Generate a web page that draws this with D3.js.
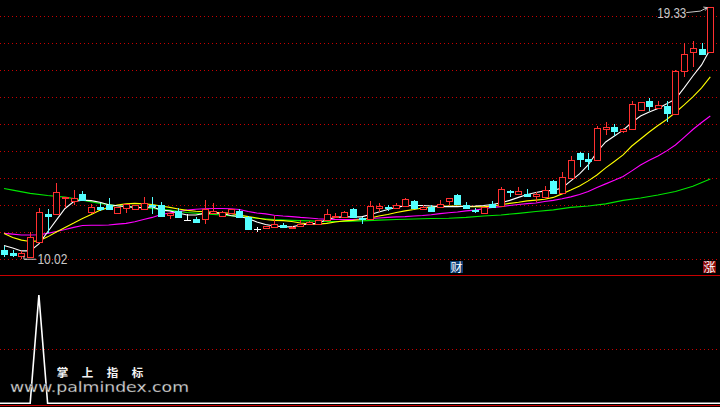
<!DOCTYPE html>
<html><head><meta charset="utf-8">
<script src="https://cdn.jsdelivr.net/npm/d3@7"></script>
<style>html,body{margin:0;padding:0;background:#000;overflow:hidden}</style>
</head><body>
<svg id="c" width="720" height="407"></svg>
<script>
// ---- data ----
const opens  = [10.34,10.22,10.13,10.10,10.65,11.66,11.66,12.26,12.17,12.42,
                11.76,11.95,12.01,11.70,11.89,11.85,11.85,12.01,12.01,11.64,
                11.80,11.45,11.49,11.48,11.72,11.60,11.72,11.80,11.55,11.12,
                11.15,11.21,11.27,11.15,11.23,11.30,11.31,11.45,11.55,11.55,
                11.85,11.53,11.48,11.91,11.93,11.89,11.98,12.16,11.86,11.95,
                11.95,12.17,12.38,12.01,11.83,11.70,12.04,11.97,12.54,12.41,
                12.41,12.34,12.29,12.90,12.45,13.00,13.94,13.70,13.67,14.81,
                14.91,14.76,14.81,15.52,15.87,15.59,15.67,15.38,16.98,17.68,
                17.77,17.68];
const highs  = [10.50,10.33,10.31,11.02,11.90,11.86,12.81,12.32,12.56,12.53,
                12.04,12.07,12.26,11.95,12.04,12.01,12.29,12.31,12.11,11.72,
                11.90,11.68,11.58,12.19,12.07,11.80,11.87,11.85,11.60,11.21,
                11.25,11.60,11.34,11.22,11.45,11.42,11.46,11.85,11.71,11.77,
                11.88,11.58,12.16,12.07,12.01,12.09,12.28,12.18,12.01,12.00,
                12.19,12.27,12.40,12.11,11.91,11.93,12.16,12.68,12.56,12.69,
                12.60,12.50,12.71,12.92,13.22,13.81,13.96,13.94,14.93,15.07,
                15.00,14.87,15.87,15.82,15.98,15.87,15.86,17.00,17.99,18.08,
                17.99,19.33];
const lows   = [10.09,10.09,10.02,10.09,10.65,10.96,11.66,11.90,12.01,12.19,
                11.67,11.80,11.85,11.70,11.72,11.85,11.85,11.68,11.60,11.48,
                11.53,11.43,11.33,11.31,11.72,11.58,11.70,11.55,11.10,11.02,
                11.14,11.21,11.14,11.13,11.23,11.28,11.30,11.45,11.55,11.55,
                11.53,11.30,11.48,11.76,11.79,11.88,11.98,11.90,11.85,11.78,
                11.94,12.01,12.00,11.89,11.72,11.70,11.92,11.97,12.29,12.40,
                12.29,12.13,12.29,12.43,12.45,12.99,13.43,13.30,13.67,14.60,
                14.56,14.68,14.80,15.52,15.50,15.58,15.09,15.37,16.73,17.13,
                17.56,17.68];
const closes = [10.20,10.15,10.24,10.84,11.76,11.61,12.48,12.32,12.28,12.19,
                11.92,11.85,11.85,11.95,12.04,12.01,12.07,11.97,11.60,11.72,
                11.55,11.45,11.39,11.86,11.80,11.76,11.86,11.58,11.12,11.12,
                11.23,11.30,11.18,11.21,11.31,11.39,11.45,11.68,11.60,11.74,
                11.55,11.51,11.97,11.97,11.91,12.01,12.22,11.91,11.95,11.79,
                12.05,12.26,12.05,11.90,11.81,11.92,11.92,12.60,12.52,12.53,
                12.35,12.42,12.56,12.44,13.03,13.67,13.71,13.65,14.85,14.88,
                14.75,14.82,15.75,15.81,15.68,15.71,15.42,16.98,17.60,17.81,
                17.59,19.33];
const ma5  = [10.51,10.42,10.31,10.31,10.57,11.01,11.45,11.88,12.14,12.19,
              12.17,12.11,12.02,11.98,11.95,11.92,11.91,11.94,11.82,11.79,
              11.71,11.64,11.64,11.70,11.71,11.70,11.62,11.58,11.51,11.38,
              11.29,11.23,11.21,11.20,11.27,11.31,11.33,11.47,11.55,11.57,
              11.57,11.57,11.66,11.75,11.84,11.92,11.98,11.99,11.99,11.97,
              11.95,11.95,11.95,11.96,11.97,11.99,12.03,12.09,12.18,12.29,
              12.40,12.47,12.53,12.55,12.64,12.90,13.16,13.49,13.97,14.34,
              14.56,14.78,15.06,15.30,15.45,15.58,15.75,15.93,16.34,16.78,
              17.19,17.78];
const ma10 = [10.95,10.81,10.71,10.66,10.68,10.83,11.01,11.18,11.34,11.51,
              11.66,11.81,11.92,12.01,12.05,12.07,12.05,12.03,11.97,11.92,
              11.86,11.81,11.78,11.76,11.74,11.72,11.70,11.64,11.58,11.53,
              11.47,11.44,11.43,11.40,11.34,11.31,11.30,11.33,11.38,11.42,
              11.44,11.47,11.53,11.60,11.66,11.73,11.79,11.84,11.90,11.93,
              11.96,11.97,11.97,11.95,11.95,11.94,11.97,12.02,12.07,12.11,
              12.16,12.19,12.22,12.29,12.42,12.56,12.71,12.90,13.12,13.38,
              13.62,13.86,14.19,14.45,14.71,14.95,15.17,15.43,15.71,16.01,
              16.34,16.75];
const ma20 = [10.96,10.93,10.90,10.90,10.91,10.96,11.03,11.10,11.18,11.25,
              11.26,11.26,11.27,11.30,11.33,11.39,11.47,11.55,11.66,11.71,
              11.77,11.82,11.85,11.87,11.88,11.88,11.87,11.84,11.77,11.71,
              11.68,11.63,11.60,11.58,11.55,11.53,11.50,11.48,11.47,11.47,
              11.47,11.49,11.51,11.53,11.55,11.57,11.58,11.60,11.62,11.65,
              11.69,11.72,11.75,11.79,11.82,11.87,11.92,11.95,11.99,12.03,
              12.06,12.08,12.14,12.18,12.24,12.31,12.40,12.51,12.66,12.79,
              12.92,13.06,13.27,13.49,13.66,13.82,14.01,14.23,14.51,14.80,
              15.06,15.30];
const ma60Idx = [0,1,3,5,7,9,11,13,15,17,19,21,23,25,27,29,31,33,35,37,39,
                 41,43,45,47,49,51,53,55,57,59,61,63,65,67,69,71,73,75,77,79,81];
const ma60 = [12.62,12.56,12.44,12.36,12.30,12.19,12.07,11.98,11.94,11.88,11.82,
              11.73,11.68,11.64,11.58,11.52,11.47,11.44,11.42,11.40,11.40,
              11.42,11.45,11.47,11.49,11.51,11.52,11.55,11.60,11.64,11.70,
              11.77,11.83,11.92,11.97,12.05,12.18,12.27,12.38,12.51,12.70,12.97];
const signal = [0,0,0,0,1,0,0,0,0,0,0,0,0,0,0,0,0,0,0,0,
                0,0,0,0,0,0,0,0,0,0,0,0,0,0,0,0,0,0,0,0,
                0,0,0,0,0,0,0,0,0,0,0,0,0,0,0,0,0,0,0,0,
                0,0,0,0,0,0,0,0,0,0,0,0,0,0,0,0,0,0,0,0,0,0];
const gridPrices = [10,11,12,13,14,15,16,17,18,19];
const eventIdx   = [52, 81];
const eventText  = ["财", "涨"];
const eventColor = ["#0c3d74", "#8a0a0a"];
const watermarkCN = ["掌","上","指","标"];
const watermarkURL = "www.palmindex.com";

// ---- drawing ----
const RED = "#ff3030", CYAN = "#54ffff";
const svg = d3.select("#c");
svg.append("rect").attr("width",720).attr("height",407).attr("fill","#000");

const x = d3.scaleLinear().domain([0,81]).range([4,710.3]);
const y = d3.scaleLinear().domain([10,19]).range([259.3,16]);
const y2 = d3.scaleLinear().domain([0,1]).range([403.3,295]);
const cx = i => Math.round(x(i));
const ry = v => Math.round(y(v));

// grid lines (dotted)
const dotted = (sel) => sel.attr("stroke","#c80000").attr("stroke-dasharray","1,3")
  .attr("shape-rendering","crispEdges");
svg.append("g").selectAll("line").data(gridPrices).join("line")
  .attr("x1",0).attr("x2",720)
  .attr("y1",d=>ry(d)+0.5).attr("y2",d=>ry(d)+0.5).call(dotted);
// panel separators
[275.5, 405.5].forEach(v=>svg.append("line").attr("x1",0).attr("x2",720)
  .attr("y1",v).attr("y2",v).attr("stroke","#c80000").attr("stroke-width",1.2));
svg.append("line").attr("x1",0).attr("x2",720)
  .attr("y1",Math.round(y2(0.5))+0.5).attr("y2",Math.round(y2(0.5))+0.5).call(dotted);

// moving averages
const line = d3.line().x(d=>x(d[0])).y(d=>y(d[1]));
const maG = svg.append("g").attr("fill","none").attr("stroke-width",1.1);
maG.append("path").attr("d", line(ma60.map((v,k)=>[ma60Idx[k],v]))).attr("stroke","#00e600");
maG.append("path").attr("d", line(ma20.map((v,i)=>[i,v]))).attr("stroke","#ff00ff");
maG.append("path").attr("d", line(ma10.map((v,i)=>[i,v]))).attr("stroke","#ffff00");
maG.append("path").attr("d", line(ma5.map((v,i)=>[i,v]))).attr("stroke","#ffffff");

// candles
const cg = svg.append("g").attr("shape-rendering","crispEdges");
closes.forEach((c,i)=>{
  const o = opens[i], h = highs[i], l = lows[i];
  const X = cx(i);
  if (c > o) {
    const top = ry(c), bot = ry(o);
    cg.append("line").attr("x1",X+0.5).attr("x2",X+0.5).attr("y1",ry(h)).attr("y2",top).attr("stroke",RED);
    cg.append("line").attr("x1",X+0.5).attr("x2",X+0.5).attr("y1",bot).attr("y2",ry(l)).attr("stroke",RED);
    cg.append("rect").attr("x",X-2.5).attr("y",top+0.5).attr("width",6).attr("height",Math.max(1,bot-top))
      .attr("fill","#000").attr("stroke",RED).attr("stroke-width",1.2);
  } else if (c < o) {
    const top = ry(o), bot = ry(c);
    cg.append("line").attr("x1",X+0.5).attr("x2",X+0.5).attr("y1",ry(h)).attr("y2",ry(l)).attr("stroke",CYAN);
    cg.append("rect").attr("x",X-3).attr("y",top).attr("width",7).attr("height",Math.max(1,bot-top)+1)
      .attr("fill",CYAN);
  } else {
    cg.append("line").attr("x1",X+0.5).attr("x2",X+0.5).attr("y1",ry(h)).attr("y2",ry(l)).attr("stroke","#fff");
    cg.append("line").attr("x1",X-3).attr("x2",X+4).attr("y1",ry(c)+0.5).attr("y2",ry(c)+0.5).attr("stroke","#fff");
  }
});

// max / min labels
const iMax = d3.maxIndex(highs), iMin = d3.minIndex(lows);
const hx = x(iMax)-3, hy = y(highs[iMax]);
svg.append("path").attr("fill","none").attr("stroke","#c8c8c8")
  .attr("d",`M${hx-21},${hy+5.5}L${hx-7},${hy+4}L${hx},${hy+0.5}M${hx-4},${hy}L${hx},${hy+0.5}L${hx-2},${hy+3.5}`);
svg.append("text").attr("x",hx-50).attr("y",hy+11).attr("fill","#c8c8c8")
  .attr("font-family","Liberation Sans, Arial, sans-serif").attr("font-size",14)
  .attr("textLength",29).attr("lengthAdjust","spacingAndGlyphs").text(highs[iMax].toFixed(2));
const lx = x(iMin)+1.5, ly = y(lows[iMin]);
svg.append("path").attr("fill","none").attr("stroke","#c8c8c8")
  .attr("d",`M${lx+13},${ly+0.5}L${lx+2},${ly+0.5}M${lx+1},${ly-3}L${lx+1},${ly+0.5}L${lx+4},${ly+0.5}`);
svg.append("text").attr("x",lx+14.5).attr("y",ly+5.5).attr("fill","#c8c8c8")
  .attr("font-family","Liberation Sans, Arial, sans-serif").attr("font-size",14)
  .attr("textLength",30).attr("lengthAdjust","spacingAndGlyphs").text(lows[iMin].toFixed(2));

// event badges
eventIdx.forEach((idx,k)=>{
  const bx = Math.round(x(idx)) - 7;
  svg.append("rect").attr("x",bx).attr("y",261).attr("width",13).attr("height",12).attr("fill",eventColor[k]);
  svg.append("text").attr("x",bx+6.5).attr("y",271.5).attr("text-anchor","middle").attr("fill","#fff")
    .attr("font-family","Noto Sans CJK SC, sans-serif").attr("font-size",12).text(eventText[k]);
});

// indicator panel
svg.append("path").attr("fill","none").attr("stroke","#fff").attr("stroke-width",1.6)
  .attr("d", d3.line().x((d,i)=>i===0?0:(i===signal.length-1?720:x(i))).y(d=>y2(d))(signal));

// watermark
watermarkCN.forEach((ch,k)=>svg.append("text").attr("x",62.5+k*25).attr("y",376.5)
  .attr("text-anchor","middle").attr("fill","#f2f2f2").attr("font-weight","bold")
  .attr("font-family","Noto Sans CJK SC, sans-serif").attr("font-size",11.5).text(ch));
svg.append("text").attr("x",10).attr("y",391.5).attr("fill","#e6e6e6")
  .attr("stroke","#333").attr("stroke-width",0.3)
  .attr("font-family","DejaVu Sans, sans-serif").attr("font-size",14)
  .attr("textLength",179).attr("lengthAdjust","spacingAndGlyphs").text(watermarkURL);
</script>
</body></html>
